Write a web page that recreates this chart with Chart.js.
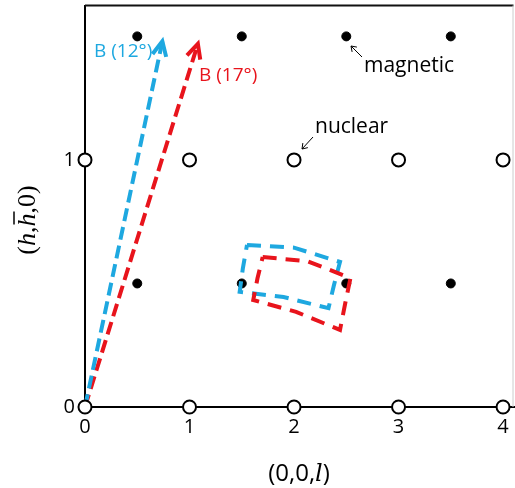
<!DOCTYPE html>
<html>
<head>
<meta charset="utf-8">
<script src="https://cdn.jsdelivr.net/npm/chart.js@4.4.1/dist/chart.umd.min.js"></script>
<style>
    html, body { margin: 0; padding: 0; background: #fff; overflow: hidden; }
    #wrap { width: 522px; height: 491px; margin-top: -3px; position: relative; }
</style>
</head>
<body>
<div id="wrap"><canvas id="recipChart"></canvas></div>
<script>
// --- data ---
const xTicks = [0, 1, 2, 3, 4];
const yTicks = [0, 1];

const nuclearX = [0, 1, 2, 3, 4, 0, 1, 2, 3, 4];
const nuclearY = [0, 0, 0, 0, 0, 1, 1, 1, 1, 1];

const magneticX = [0.5, 1.5, 2.5, 3.5, 0.5, 1.5, 2.5, 3.5];
const magneticY = [1.5, 1.5, 1.5, 1.5, 0.5, 0.5, 0.5, 0.5];

const field12X = [0, 0.74];
const field12Y = [0, 1.48];
const field17X = [0, 1.08];
const field17Y = [0, 1.47];

const blueBoxX = [1.55, 2.0, 2.44, 2.38, 2.33, 1.9, 1.48, 1.51, 1.55];
const blueBoxY = [0.656, 0.645, 0.587, 0.49, 0.40, 0.445, 0.466, 0.56, 0.656];
const redBoxX = [1.70, 2.13, 2.54, 2.49, 2.44, 2.02, 1.61, 1.65, 1.70];
const redBoxY = [0.607, 0.59, 0.522, 0.42, 0.312, 0.385, 0.433, 0.52, 0.607];

const BLUE = '#1ea8e0';
const RED = '#e8141c';

function pts(xs, ys) {
    return xs.map(function(x, i) { return { x: x, y: ys[i] }; });
}

// arrowheads, annotations, frame and axis titles
const extrasPlugin = {
    id: 'extras',
    afterDatasetsDraw: function(chart) {
        const ctx = chart.ctx;
        const xs = chart.scales.x, ys = chart.scales.y;
        const area = chart.chartArea;

        function chevron(x0, y0, x1, y1, color) {
            const px0 = xs.getPixelForValue(x0), py0 = ys.getPixelForValue(y0);
            const px1 = xs.getPixelForValue(x1), py1 = ys.getPixelForValue(y1);
            const ang = Math.atan2(py1 - py0, px1 - px0);
            const len = 16, spread = 0.45;
            ctx.save();
            ctx.strokeStyle = color;
            ctx.lineWidth = 4;
            ctx.lineCap = 'butt';
            ctx.lineJoin = 'miter';
            ctx.beginPath();
            ctx.moveTo(px1 - len * Math.cos(ang - spread), py1 - len * Math.sin(ang - spread));
            ctx.lineTo(px1, py1);
            ctx.lineTo(px1 - len * Math.cos(ang + spread), py1 - len * Math.sin(ang + spread));
            ctx.stroke();
            ctx.restore();
        }
        chevron(field12X[0], field12Y[0], field12X[1], field12Y[1], BLUE);
        chevron(field17X[0], field17Y[0], field17X[1], field17Y[1], RED);

        // frame: top dark, right faint
        ctx.save();
        ctx.lineWidth = 2;
        ctx.strokeStyle = '#111';
        ctx.beginPath();
        ctx.moveTo(area.left, area.top);
        ctx.lineTo(area.right, area.top);
        ctx.stroke();
        ctx.strokeStyle = '#ccc';
        ctx.lineWidth = 1;
        ctx.beginPath();
        ctx.moveTo(area.right - 0.5, area.top);
        ctx.lineTo(area.right - 0.5, area.bottom);
        ctx.stroke();
        ctx.restore();

        // free text, placed in window coordinates (canvas is shifted up 3px)
        ctx.save();
        ctx.translate(0, 3);
        ctx.font = '19px "Open Sans", sans-serif';
        ctx.textBaseline = 'middle';
        ctx.fillStyle = BLUE;
        ctx.fillText('B (12°)', 94, 52);
        ctx.fillStyle = RED;
        ctx.fillText('B (17°)', 199, 76);
        ctx.fillStyle = '#000';
        ctx.font = '21px "Open Sans", sans-serif';
        ctx.fillText('magnetic', 364, 66);
        ctx.fillText('nuclear', 315, 127);

        // small pointer arrows
        function pointer(x0, y0, x1, y1) {
            const ang = Math.atan2(y1 - y0, x1 - x0);
            ctx.beginPath();
            ctx.moveTo(x0, y0);
            ctx.lineTo(x1, y1);
            ctx.moveTo(x1 - 6 * Math.cos(ang - 0.6), y1 - 6 * Math.sin(ang - 0.6));
            ctx.lineTo(x1, y1);
            ctx.lineTo(x1 - 6 * Math.cos(ang + 0.6), y1 - 6 * Math.sin(ang + 0.6));
            ctx.stroke();
        }
        ctx.strokeStyle = '#000';
        ctx.lineWidth = 1;
        pointer(362, 57, 351, 46);
        pointer(313, 137, 302, 149);

        // axis titles with italic parts
        ctx.textBaseline = 'alphabetic';
        function mixed(parts, x, y) {
            let total = 0;
            parts.forEach(function(p) { ctx.font = p[1]; total += ctx.measureText(p[0]).width; });
            let cx = x - total / 2;
            const spans = [];
            parts.forEach(function(p) {
                ctx.font = p[1];
                const w = ctx.measureText(p[0]).width;
                ctx.fillText(p[0], cx, y);
                spans.push([cx, w]);
                cx += w;
            });
            return spans;
        }
        const sans = '24px "Open Sans", sans-serif';
        const sansItalic = 'italic 24px "DejaVu Serif", serif';
        mixed([['(0,0,', sans], ['l', sansItalic], [')', sans]], 299, 481);

        const serif = '26px "Liberation Serif", serif';
        const serifItalic = 'italic 26px "Liberation Serif", serif';
        ctx.save();
        ctx.translate(35, 220);
        ctx.rotate(-Math.PI / 2);
        const spans = mixed([['(', serif], ['h', serifItalic], [',', serif], ['h', serifItalic], [',0)', serif]], 0, 0);
        // overline on the second h
        ctx.lineWidth = 1.5;
        ctx.beginPath();
        ctx.moveTo(spans[3][0] + 2, -21);
        ctx.lineTo(spans[3][0] + spans[3][1] + 2, -21);
        ctx.stroke();
        ctx.restore();
        ctx.restore();
    }
};

const canvas = document.getElementById('recipChart');
new Chart(canvas.getContext('2d'), {
    type: 'scatter',
    data: {
        datasets: [
            {
                label: 'B (12°)',
                type: 'line',
                data: pts(field12X, field12Y),
                borderColor: BLUE,
                borderWidth: 4,
                borderDash: [13, 6],
                pointRadius: 0,
                fill: false,
                clip: false,
                order: 3
            },
            {
                label: 'B (17°)',
                type: 'line',
                data: pts(field17X, field17Y),
                borderColor: RED,
                borderWidth: 4,
                borderDash: [13, 6],
                pointRadius: 0,
                fill: false,
                clip: false,
                order: 3
            },
            {
                label: 'blue box',
                type: 'line',
                data: pts(blueBoxX, blueBoxY),
                borderColor: BLUE,
                borderWidth: 4,
                borderDash: [14, 9],
                tension: 0,
                pointRadius: 0,
                fill: false,
                order: 2
            },
            {
                label: 'red box',
                type: 'line',
                data: pts(redBoxX, redBoxY),
                borderColor: RED,
                borderWidth: 4,
                borderDash: [14, 9],
                tension: 0,
                pointRadius: 0,
                fill: false,
                order: 1
            },
            {
                label: 'magnetic',
                data: pts(magneticX, magneticY),
                pointRadius: 4.5,
                pointBackgroundColor: '#000',
                pointBorderColor: '#000',
                pointBorderWidth: 1,
                clip: false,
                order: 4
            },
            {
                label: 'nuclear',
                data: pts(nuclearX, nuclearY),
                pointRadius: 6.5,
                pointBackgroundColor: '#fff',
                pointBorderColor: '#000',
                pointBorderWidth: 2,
                clip: false,
                order: 0
            }
        ]
    },
    options: {
        responsive: true,
        maintainAspectRatio: false,
        animation: false,
        layout: { padding: { top: 6, right: 2, left: 0, bottom: 0 } },
        plugins: {
            legend: { display: false },
            tooltip: { enabled: false }
        },
        scales: {
            x: {
                type: 'linear',
                min: 0,
                max: 4.1,
                afterBuildTicks: function(scale) { scale.ticks = xTicks.map(function(v) { return { value: v }; }); },
                afterFit: function(scale) {
                    scale.height = 81;
                    scale.paddingLeft = 0;
                    scale.paddingRight = 0;
                },
                grid: { drawOnChartArea: false, drawTicks: true, tickLength: 6, color: '#000', lineWidth: 2 },
                border: { display: true, color: '#000', width: 2 },
                ticks: { color: '#000', padding: 2, font: { size: 20, family: '"Open Sans", sans-serif' } }
            },
            y: {
                type: 'linear',
                min: 0,
                max: 1.625,
                afterBuildTicks: function(scale) { scale.ticks = yTicks.map(function(v) { return { value: v }; }); },
                afterFit: function(scale) {
                    scale.width = 85;
                    scale.paddingTop = 0;
                    scale.paddingBottom = 0;
                },
                grid: { drawOnChartArea: false, drawTicks: true, tickLength: 6, color: '#000', lineWidth: 2 },
                border: { display: true, color: '#000', width: 2 },
                ticks: { color: '#000', padding: 4, font: { size: 20, family: '"Open Sans", sans-serif' } }
            }
        }
    },
    plugins: [extrasPlugin]
});
</script>
</body>
</html>
